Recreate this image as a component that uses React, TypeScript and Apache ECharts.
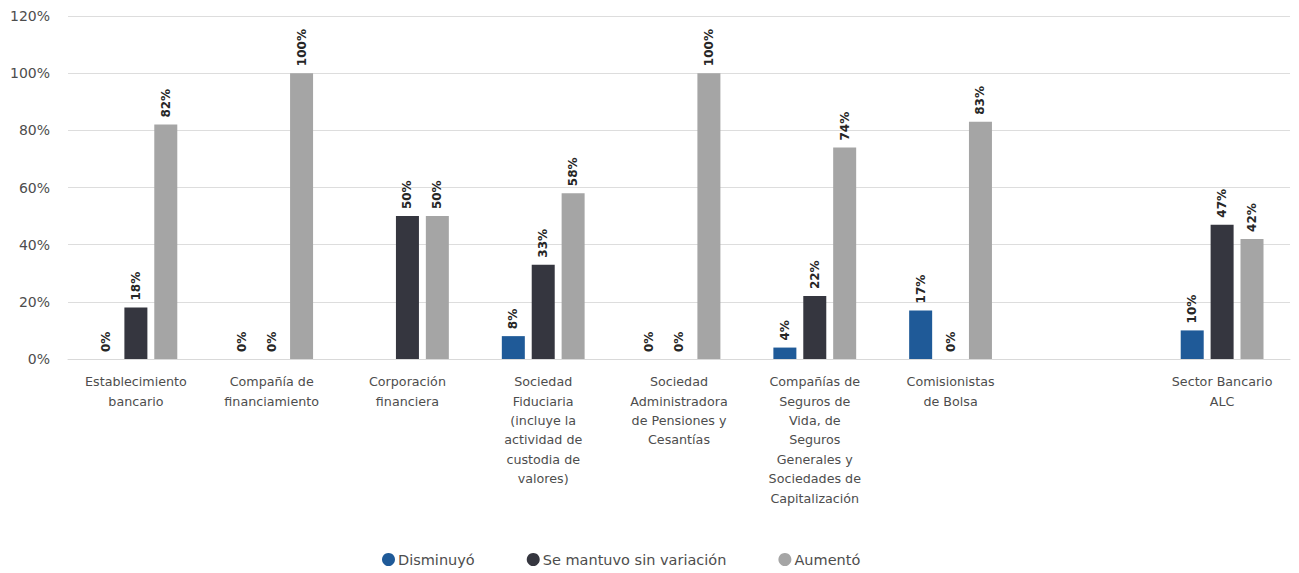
import React, { useEffect, useRef } from "react";
import * as echarts from "echarts";

const categories = [
  "Establecimiento\nbancario",
  "Compañía de\nfinanciamiento",
  "Corporación\nfinanciera",
  "Sociedad\nFiduciaria\n(incluye la\nactividad de\ncustodia de\nvalores)",
  "Sociedad\nAdministradora\nde Pensiones y\nCesantías",
  "Compañías de\nSeguros de\nVida, de\nSeguros\nGenerales y\nSociedades de\nCapitalización",
  "Comisionistas\nde Bolsa",
  "",
  "Sector Bancario\nALC",
];

const disminuyo = [0, 0, null, 8, 0, 4, 17, null, 10];
const sinVariacion = [18, 0, 50, 33, 0, 22, 0, null, 47];
const aumento = [82, 100, 50, 58, 100, 74, 83, null, 42];

const seriesNames = ["Disminuyó", "Se mantuvo sin variación", "Aumentó"];
const seriesColors = ["#1F5A98", "#35363F", "#A5A5A5"];

const FONT = "'DejaVu Sans', sans-serif";

export default function App() {
  const ref = useRef<HTMLDivElement>(null);
  useEffect(() => {
    if (!ref.current) return;
    const chart = echarts.init(ref.current, null, { renderer: "svg" });
    const data = [disminuyo, sinVariacion, aumento];
    chart.setOption({
      animation: false,
      grid: { left: 68, right: 9, top: 16, bottom: 214, containLabel: false },
      legend: {
        bottom: 1,
        left: 377,
        icon: "circle",
        itemWidth: 13,
        itemHeight: 13,
        itemGap: 52,
        textStyle: { color: "#4D4D4D", fontSize: 14.5, fontFamily: FONT, padding: [0, 0, 0, -2] },
        data: seriesNames,
      },
      xAxis: {
        type: "category",
        data: categories,
        axisLine: { show: true, lineStyle: { color: "#D9D9D9" } },
        axisTick: { show: false },
        axisLabel: {
          interval: 0,
          color: "#4D4D4D",
          fontSize: 12.7,
          lineHeight: 19.4,
          fontFamily: FONT,
          margin: 13,
          align: "center",
        },
      },
      yAxis: {
        type: "value",
        min: 0,
        max: 120,
        interval: 20,
        axisLine: { show: false },
        axisTick: { show: false },
        splitLine: { lineStyle: { color: "#DDDDDD" } },
        axisLabel: {
          formatter: "{value}%",
          color: "#4D4D4D",
          fontSize: 14,
          fontFamily: FONT,
          margin: 18,
        },
      },
      series: seriesNames.map((name, i) => ({
        name,
        type: "bar",
        data: data[i],
        barWidth: 23,
        barGap: "30%",
        itemStyle: { color: seriesColors[i] },
        label: {
          show: true,
          position: "top",
          rotate: 90,
          align: "left",
          verticalAlign: "middle",
          distance: 7,
          formatter: "{c}%",
          color: "#262626",
          fontSize: 12,
          fontWeight: "bold",
          fontFamily: FONT,
        },
      })),
    });
    return () => chart.dispose();
  }, []);
  return (
    <div
      ref={ref}
      style={{ position: "absolute", left: 0, top: 0, width: 1299, height: 573 }}
    />
  );
}
